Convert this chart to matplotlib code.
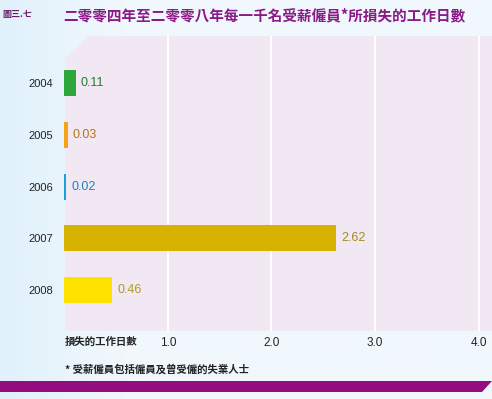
import matplotlib.pyplot as plt
import numpy as np
from matplotlib.patches import Polygon

plt.rcParams['font.family'] = ['Liberation Sans', 'Noto Sans CJK TC', 'DejaVu Sans']

years = ['2004', '2005', '2006', '2007', '2008']
days_lost = [0.11, 0.03, 0.02, 2.62, 0.46]
bar_colors = ['#2ea83a', '#f7a21b', '#1aa0dd', '#d7b200', '#ffe200']
label_colors = ['#1f7d2b', '#b7711c', '#1b84bd', '#a58a1c', '#ad9a1e']
xticks = [1.0, 2.0, 3.0, 4.0]
xtick_labels = ['1.0', '2.0', '3.0', '4.0']

title = '二零零四年至二零零八年每一千名受薪僱員*所損失的工作日數'
fig_no = '圖三.七'
x_name = '損失的工作日數'
note = '* 受薪僱員包括僱員及曾受僱的失業人士'

W, H = 492, 399
fig = plt.figure(figsize=(W / 100, H / 100), dpi=100)

def fx(px):
    return px / W

def fy(py):
    return 1 - py / H

# background gradient
bg = fig.add_axes([0, 0, 1, 1], zorder=-10)
xs = np.linspace(0, 1, 200)
t = np.clip(xs / 0.25, 0, 1)
c0 = np.array([224, 241, 251]) / 255
c1 = np.array([241, 248, 253]) / 255
grad = (c0[None, :] * (1 - t[:, None]) + c1[None, :] * t[:, None])[None, :, :]
bg.imshow(grad, aspect='auto', extent=[0, 1, 0, 1])
bg.set_axis_off()

# plot area (with cut corner)
pts = [(65, 58), (88, 36), (492, 36), (492, 331), (65, 331)]
fig.patches.append(Polygon([(fx(a), fy(b)) for a, b in pts], closed=True,
                           transform=fig.transFigure, facecolor='#f2e8f4',
                           edgecolor='none', zorder=-5))

# purple band
band = [(0, 381), (492, 381), (482, 392), (0, 392)]
fig.patches.append(Polygon([(fx(a), fy(b)) for a, b in band], closed=True,
                           transform=fig.transFigure, facecolor='#930c80',
                           edgecolor='none', zorder=-5))

ax = fig.add_axes([fx(64.4), fy(331), fx(492 - 64.4), (331 - 36) / H])
ax.set_facecolor('none')
y = np.arange(len(years))
ax.barh(y, days_lost, height=0.5, color=bar_colors, zorder=3)
for yi, v, c in zip(y, days_lost, label_colors):
    ax.text(v + 0.05, yi, f'{v:.2f}', color=c, va='center', ha='left',
            fontsize=9, zorder=4)

ax.set_xlim(0, 4.13)
ax.set_ylim(4.79, -0.91)
ax.set_xticks(xticks)
ax.set_xticklabels(xtick_labels, fontsize=8.5, color='#222222')
ax.set_yticks(y)
ax.set_yticklabels(years, fontsize=8, color='#222222')
ax.tick_params(axis='x', length=0, pad=4)
ax.tick_params(axis='y', length=0, pad=8)
ax.grid(axis='x', color='white', linewidth=1.5, zorder=1)
for s in ax.spines.values():
    s.set_visible(False)

fig.text(fx(65), fy(342), x_name, fontsize=7.5, fontweight='bold',
         va='center', ha='left', color='#222222',
         family=['Noto Sans CJK TC'])
fig.text(fx(65), fy(369), note, fontsize=7.5, fontweight='bold',
         va='center', ha='left', color='#222222',
         family=['Noto Sans CJK TC'])
fig.text(fx(63), fy(15), title, fontsize=10.5, fontweight='bold',
         va='center', ha='left', color='#8a1a86',
         family=['Noto Sans CJK TC'])
fig.text(fx(2), fy(15), fig_no, fontsize=6.5, fontweight='bold',
         va='center', ha='left', color='#6a1a6a',
         family=['Noto Sans CJK TC'])

fig.savefig('out.png', dpi=100)
